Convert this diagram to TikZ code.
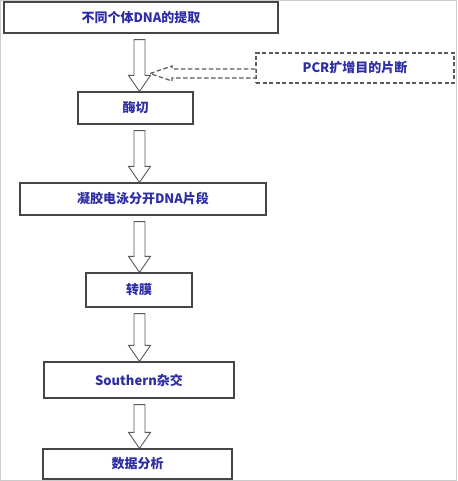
\documentclass[tikz,border=0pt]{standalone}
\usepackage{fontspec}
\setmainfont{Noto Sans CJK SC}
\usetikzlibrary{calc}
\definecolor{txtblue}{RGB}{45,45,165}
\definecolor{boxline}{RGB}{70,70,70}
\definecolor{arrline}{RGB}{90,90,90}
\tikzset{
  stepbox/.style={draw=boxline, line width=1.2pt, fill=white, minimum height=#1, inner sep=0pt,
    font=\fontsize{13}{15}\selectfont\bfseries, text=txtblue},
  stepbox/.default=32pt,
  blockarr/.style={draw=arrline, line width=0.9pt, fill=white, line join=miter},
  dasharr/.style={draw=arrline, line width=1.2pt, dashed, dash pattern=on 4.5pt off 2.5pt, fill=white},
}
\newcommand\myblockarrow[2]{%
  \draw[blockarr] let \p1=($(#1.south -| axis)+(0,6)$), \p2=(#2.north -| axis) in
    (\x1-5.5pt,\y1) -- (\x1+5.5pt,\y1) -- (\x1+5.5pt,\y2+16pt) -- (\x1+11pt,\y2+16pt)
    -- (\x1,\y2) -- (\x1-11pt,\y2+16pt) -- (\x1-5.5pt,\y2+16pt) -- cycle;}
\begin{document}
\begin{tikzpicture}[x=1pt,y=-1pt]
\useasboundingbox (0,0) rectangle (457,481);
\draw[black!20, line width=1.2pt] (0.8,0.8) rectangle (456.2,480.2);
\coordinate (axis) at (139.5,0);
\node[stepbox=31pt, minimum width=274pt] (b1) at (141,17.5) {不同个体DNA的提取};
\node[stepbox=32pt, minimum width=115pt] (b2) at (135.5,108) {酶切};
\node[stepbox=30pt, minimum width=198pt, draw=arrline, dashed, dash pattern=on 4pt off 2.5pt] (pcr) at (355,68) {PCR扩增目的片断};
\node[stepbox=32pt, minimum width=246pt] (b3) at (143,199) {凝胶电泳分开DNA片段};
\node[stepbox=34pt, minimum width=106pt] (b4) at (139,290) {转膜};
\node[stepbox=36pt, minimum width=190pt] (b5) at (139,380) {Southern杂交};
\node[stepbox=30pt, minimum width=189pt] (b6) at (137.5,464) {数据分析};
\myblockarrow{b1}{b2}
\myblockarrow{b2}{b3}
\myblockarrow{b3}{b4}
\myblockarrow{b4}{b5}
\myblockarrow{b5}{b6}
\coordinate (dtip) at (150,73.5);
\draw[dasharr] let \p1=(dtip), \p2=(pcr.west) in
  (\x2,\y1+4.5pt) -- (\x1+22pt,\y1+4.5pt) -- (\x1+22pt,\y1+7.5pt) -- (\x1,\y1)
  -- (\x1+22pt,\y1-7.5pt) -- (\x1+22pt,\y1-4.5pt) -- (\x2,\y1-4.5pt);
\end{tikzpicture}
\end{document}
